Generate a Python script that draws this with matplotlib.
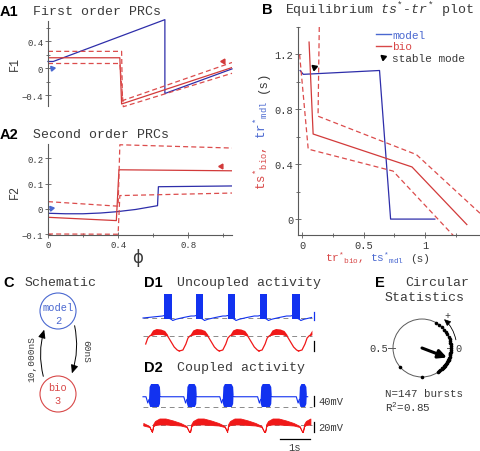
import numpy as np
import matplotlib.pyplot as plt
from matplotlib.patches import Circle, FancyArrowPatch
from matplotlib.lines import Line2D

plt.rcParams['font.family'] = ['Liberation Mono', 'DejaVu Sans']
plt.rcParams['mathtext.fontset'] = 'custom'
plt.rcParams['mathtext.rm'] = 'Liberation Mono'
plt.rcParams['mathtext.it'] = 'Liberation Mono:italic'
plt.rcParams['mathtext.bf'] = 'Liberation Mono:bold'

# ---------- colours ----------
BLUE = '#2e2eaa'
RED = '#d23a3a'
RED_DASH = '#dc4c4c'
LBLUE = '#4a68d0'
LRED = '#d84848'
TR_BLUE = '#1232f0'
TR_RED = '#f01818'
GREY = '#5a5a5a'
DASHGREY = '#8a8a8a'
TXT = '#3a3a3a'

# ---------- A1: first order PRCs ----------
a1_phi_model = [0.0, 0.03, 0.667, 0.667, 1.05]
a1_f1_model = [0.10, 0.10, 0.72, -0.375, -0.01]
a1_phi_bio = [0.0, 0.41, 0.42, 1.05]
a1_f1_bio = [0.155, 0.155, -0.53, 0.01]
a1_phi_bio_hi = [0.0, 0.42, 0.425, 1.05]
a1_f1_bio_hi = [0.25, 0.25, -0.48, 0.085]
a1_phi_bio_lo = [0.0, 0.41, 0.43, 1.05]
a1_f1_bio_lo = [0.07, 0.07, -0.57, -0.075]
a1_mark_model = (0.02, 0.0)
a1_mark_bio = (1.0, 0.11)

# ---------- A2: second order PRCs ----------
a2_phi_model = [0.0, 0.1, 0.2, 0.3, 0.39, 0.5, 0.625, 0.63, 1.05]
a2_f2_model = [-0.017, -0.019, -0.019, -0.016, -0.011, -0.002, 0.013, 0.088, 0.091]
a2_phi_bio = [0.0, 0.39, 0.405, 1.05]
a2_f2_bio = [-0.033, -0.046, 0.155, 0.151]
a2_phi_bio_hi = [0.0, 0.40, 0.41, 1.05]
a2_f2_bio_hi = [0.029, 0.011, 0.254, 0.241]
a2_phi_bio_lo = [0.0, 0.40, 0.41, 1.05]
a2_f2_bio_lo = [-0.099, -0.100, 0.053, 0.063]
a2_mark_model = (0.015, 0.004)
a2_mark_bio = (0.99, 0.17)

# ---------- B: equilibrium ts*-tr* ----------
b_x_model = [-0.016, 0.01, 0.63, 0.72, 1.08]
b_y_model = [1.083, 1.055, 1.083, 0.0, 0.0]
b_x_bio = [0.057, 0.09, 0.894, 1.34]
b_y_bio = [1.29, 0.62, 0.38, -0.04]
b_x_bio_hi = [0.14, 0.13, 0.93, 1.45]
b_y_bio_hi = [1.40, 0.75, 0.47, 0.04]
b_x_bio_lo = [-0.02, 0.05, 0.74, 1.23]
b_y_bio_lo = [1.20, 0.51, 0.35, -0.12]
b_stable = (0.098, 1.105)

# ---------- D: voltage traces (s, mV) ----------
d1_blue_start = [0.81, 1.87, 2.92, 4.0, 5.08]
d1_blue_dur = 0.24
d1_ib_t = [0.0, 0.04, 0.15, 0.4, 0.65]
d1_ib_v = [-56, -60, -55, -48, -42]

d1_red_peak = [0.64, 1.98, 3.31, 4.62, 5.95]
d1_red_t = [-0.67, -0.55, -0.45, -0.38, -0.3, -0.15, 0.0, 0.15, 0.28, 0.38, 0.5, 0.6, 0.67]
d1_red_v = [-80, -78, -66, -54, -49, -47, -46, -47, -50, -60, -72, -78, -80]
d1_band_t = [-0.3, -0.22, -0.1, 0.05, 0.18, 0.28]
d1_band_hi = [-46, -38, -35, -36, -39, -47]
d1_band_lo = [-50, -47.5, -46.5, -46.5, -47.5, -50]

d2_blue_start = [0.3, 1.56, 2.76, 4.02, 5.31]
d2_blue_dur = [0.38, 0.33, 0.36, 0.37, 0.25]
d2_blue_rest = -9
d2_blue_dip = -34

d2_red_trough = [-0.84, 0.4, 1.67, 2.9, 4.17, 5.43]
d2_env_t = [0.0, 0.04, 0.1, 0.25, 0.45, 0.7, 0.95, 1.15, 1.24]
d2_env_lo = [-64, -53, -50, -49, -49, -50, -51, -54, -64]
d2_env_hi = [-64, -48, -42, -37, -37, -41, -46, -52, -64]

# ---------- E: circular statistics ----------
e_phase = [0.17, 0.15, 0.13, 0.11, 0.09, 0.08, 0.06, 0.05, 0.04, 0.03, 0.02,
           0.01, 0.0, -0.01, -0.02, -0.03, -0.035, -0.04, -0.05, -0.055, -0.06,
           -0.065, -0.07, -0.075, -0.08, -0.085, -0.09, -0.095, -0.1, -0.105,
           -0.11, -0.115, -0.12, -0.125, -0.13, -0.14, -0.15, -0.16, -0.25, -0.385]
e_mean_phase = -0.058
e_R = 0.92

W, H = 481, 452
fig = plt.figure(figsize=(W / 100, H / 100), dpi=100)


def px_axes(x0, y0, x1, y1):
    return fig.add_axes([x0 / W, 1 - y1 / H, (x1 - x0) / W, (y1 - y0) / H])


def style_axes(ax, size):
    for s in ['top', 'right']:
        ax.spines[s].set_visible(False)
    for s in ['left', 'bottom']:
        ax.spines[s].set_color(GREY)
        ax.spines[s].set_linewidth(0.8)
    ax.tick_params(which='both', direction='inout', color=GREY, width=0.6,
                   labelsize=size, labelcolor=TXT, pad=1.5)
    ax.tick_params(which='major', length=4)
    ax.tick_params(which='minor', length=3)
    ax.patch.set_alpha(0)


# ======================
# A1
# ======================
ax1 = px_axes(48, 22, 232, 107)
style_axes(ax1, 6.5)
ax1.plot(a1_phi_model, a1_f1_model, color=BLUE, lw=0.9, clip_on=False)
ax1.plot(a1_phi_bio, a1_f1_bio, color=RED, lw=0.9)
ax1.plot(a1_phi_bio_hi, a1_f1_bio_hi, color=RED_DASH, lw=0.9, ls=(0, (4, 2.5)))
ax1.plot(a1_phi_bio_lo, a1_f1_bio_lo, color=RED_DASH, lw=0.9, ls=(0, (4, 2.5)), clip_on=False)
ax1.plot(*a1_mark_model, marker=(3, 0, 160), color=LBLUE, ms=4)
ax1.plot(*a1_mark_bio, marker=(3, 0, -30), color=RED, ms=4)
ax1.set_xlim(0, 1.05)
ax1.set_ylim(-0.56, 0.70)
ax1.spines['bottom'].set_visible(False)
ax1.set_xticks([])
ax1.set_yticks([-0.4, 0, 0.4])
ax1.set_yticklabels(['\u22120.4', '0', '0.4'])
ax1.set_yticks([-0.2, 0.2, 0.6], minor=True)

# ======================
# A2
# ======================
ax2 = px_axes(48, 145, 232, 236)
style_axes(ax2, 6.5)
ax2.plot(a2_phi_model, a2_f2_model, color=BLUE, lw=0.9)
ax2.plot(a2_phi_bio, a2_f2_bio, color=RED, lw=0.9)
ax2.plot(a2_phi_bio_hi, a2_f2_bio_hi, color=RED_DASH, lw=0.9, ls=(0, (4, 2.5)))
ax2.plot(a2_phi_bio_lo, a2_f2_bio_lo, color=RED_DASH, lw=0.9, ls=(0, (4, 2.5)), clip_on=False)
ax2.plot(*a2_mark_model, marker=(3, 0, 160), color=LBLUE, ms=4)
ax2.plot(*a2_mark_bio, marker=(3, 0, -30), color=RED, ms=4)
ax2.set_xlim(0, 1.05)
ax2.set_ylim(-0.103, 0.257)
ax2.set_yticks([-0.1, 0, 0.1, 0.2])
ax2.set_yticklabels(['\u22120.1', '0', '0.1', '0.2'])
ax2.set_xticks([0, 0.4, 0.8])
ax2.set_xticklabels(['0', '0.4', '0.8'])
ax2.set_xticks([0.2, 0.6, 1.0], minor=True)

# ======================
# B
# ======================
axb = px_axes(298, 28, 480, 236)
style_axes(axb, 7.5)
axb.plot(b_x_model, b_y_model, color=BLUE, lw=0.9)
axb.plot(b_x_bio, b_y_bio, color=RED, lw=0.9)
axb.plot(b_x_bio_hi, b_y_bio_hi, color=RED_DASH, lw=0.9, ls=(0, (4, 2.5)))
axb.plot(b_x_bio_lo, b_y_bio_lo, color=RED_DASH, lw=0.9, ls=(0, (4, 2.5)))
axb.plot(*b_stable, marker=(3, 0, 170), color='k', ms=4.5)
axb.set_xlim(-0.033, 1.447)
axb.set_ylim(-0.116, 1.40)
axb.set_yticks([0, 0.4, 0.8, 1.2])
axb.set_yticklabels(['0', '0.4', '0.8', '1.2'])
axb.set_yticks([0.2, 0.6, 1.0, 1.4], minor=True)
axb.set_xticks([0, 0.5, 1])
axb.set_xticklabels(['0', '0.5', '1'])
axb.set_xticks([0.25, 0.75, 1.25], minor=True)
handles = [Line2D([], [], color=LBLUE, lw=1),
           Line2D([], [], color=LRED, lw=1),
           Line2D([], [], ls='none', marker=(3, 0, 170), color='k', ms=4.5)]
leg = axb.legend(handles, ['model', 'bio', 'stable mode'], loc='upper left',
                 bbox_to_anchor=(0.43, 0.985), frameon=False, fontsize=8,
                 handlelength=1.3, handletextpad=0.15, labelspacing=0.12,
                 borderpad=0, borderaxespad=0)
for t, c in zip(leg.get_texts(), [LBLUE, LRED, TXT]):
    t.set_color(c)

# ======================
# C schematic
# ======================
axc = px_axes(0, 285, 130, 440)
axc.set_xlim(0, 130)
axc.set_ylim(440, 285)
axc.axis('off')
axc.add_patch(Circle((58, 312), 18, fill=False, ec=LBLUE, lw=0.8))
axc.add_patch(Circle((58, 395), 18, fill=False, ec=LRED, lw=0.8))
axc.text(58, 308, 'model', color=LBLUE, fontsize=7.5, ha='center', va='center')
axc.text(58, 321, '2', color=LBLUE, fontsize=7.5, ha='center', va='center')
axc.text(58, 388, 'bio', color=LRED, fontsize=7.5, ha='center', va='center')
axc.text(58, 401, '3', color=LRED, fontsize=7.5, ha='center', va='center')
axc.add_patch(FancyArrowPatch((44, 380), (45, 328), connectionstyle='arc3,rad=-0.15',
                              arrowstyle='-|>,head_length=5,head_width=2.2',
                              color='k', lw=0.7, mutation_scale=1))
axc.add_patch(FancyArrowPatch((74, 324), (71, 377), connectionstyle='arc3,rad=-0.15',
                              arrowstyle='-|>,head_length=5,head_width=2.2',
                              color='k', lw=0.7, mutation_scale=1))
axc.text(32, 359, '10,000nS', rotation=90, fontsize=6.8, color=TXT, ha='center', va='center')
axc.text(86, 352, '60nS', rotation=270, fontsize=6.8, color=TXT, ha='center', va='center')

# ======================
# D traces
# ======================
T0, T1 = 0.1, 5.73


def d_axes(y0, y1, vlo, vhi):
    ax = px_axes(140, y0, 320, y1)
    ax.set_xlim(0, 6)
    ax.set_ylim(vlo, vhi)
    ax.axis('off')
    ax.plot([T0, T1], [-50, -50], color=DASHGREY, lw=0.7, ls=(0, (5, 4)), zorder=1)
    return ax


# D1 blue
ad1b = d_axes(288, 326, -78, 74)
tl, vl = [T0], [-50]
for s in d1_blue_start:
    tl += [s - 0.06, s]
    vl += [-42, -40]
    e = s + d1_blue_dur
    tl += [e + dt for dt in d1_ib_t]
    vl += d1_ib_v
    ad1b.fill_between([s, e], -52, 46, color=TR_BLUE, lw=0, zorder=3)
tl, vl = np.array(tl), np.array(vl)
keep = tl <= T1
ad1b.plot(tl[keep], vl[keep], color=TR_BLUE, lw=0.8, zorder=2)
ad1b.plot([5.8, 5.8], [-26, -58], color=TR_BLUE, lw=0.9, clip_on=False)

# D1 red
ad1r = d_axes(326, 356, -88, -28)
for c in d1_red_peak:
    t = c + np.array(d1_red_t)
    v = np.array(d1_red_v)
    m = (t >= T0) & (t <= T1)
    ad1r.plot(t[m], v[m], color=TR_RED, lw=0.9, zorder=2)
    tb = c + np.array(d1_band_t)
    mb = (tb >= T0) & (tb <= T1)
    ad1r.fill_between(tb[mb], np.array(d1_band_lo)[mb], np.array(d1_band_hi)[mb],
                      color=TR_RED, lw=0, zorder=3)
ad1r.plot([5.8, 5.8], [-60, -80], color='k', lw=0.9, clip_on=False)

# D2 blue
ad2b = d_axes(378, 412, -66, 70)
tl, vl = [T0], [d2_blue_rest]
for s, d in zip(d2_blue_start, d2_blue_dur):
    e = s + d
    tl += [s - 0.1, s - 0.04, s, e, e + 0.03]
    vl += [d2_blue_rest, d2_blue_dip, -20, -8, d2_blue_rest]
    ad2b.fill([s, s + 0.02, s + 0.07, e - 0.07, e - 0.015, e, e - 0.015, e - 0.06, s + 0.04, s],
              [-20, 30, 42, 42, 30, 0, -38, -50, -50, -35], color=TR_BLUE, lw=0, zorder=3)
tl, vl = np.array(tl), np.array(vl)
keep = tl <= T1
ad2b.plot(tl[keep], vl[keep], color=TR_BLUE, lw=0.8, zorder=2)
ad2b.plot([5.8, 5.8], [-6, -46], color='k', lw=0.9, clip_on=False)

# D2 red
ad2r = d_axes(412, 445, -88, -22)
for c in d2_red_trough:
    t = c + np.array(d2_env_t)
    m = (t >= T0) & (t <= T1)
    ad2r.fill_between(t[m], np.array(d2_env_lo)[m], np.array(d2_env_hi)[m],
                      color=TR_RED, lw=0.6, ec=TR_RED, zorder=3)
ad2r.plot([5.8, 5.8], [-44, -64], color='k', lw=0.9, clip_on=False)
ad2r.plot([4.67, 5.67], [-78, -78], color='k', lw=0.9, clip_on=False)

# ======================
# E circular statistics
# ======================
ae = px_axes(382, 309, 462, 389)
ae.set_xlim(-1.38, 1.38)
ae.set_ylim(-1.38, 1.38)
ae.axis('off')
ae.add_patch(Circle((0, 0), 1, fill=False, ec=GREY, lw=0.7))
ae.plot([-1.17, -0.93], [0, 0], color=GREY, lw=0.7)
ae.plot([0.86, 1.03], [0, 0], color=GREY, lw=0.7)
ang = 2 * np.pi * np.array(e_phase)
ae.plot(np.cos(ang), np.sin(ang), 'o', color='k', ms=2.6, mec='none')
ma = 2 * np.pi * e_mean_phase
ae.annotate('', xy=(e_R * np.cos(ma), e_R * np.sin(ma)), xytext=(0, 0),
            arrowprops=dict(arrowstyle='-|>,head_length=0.5,head_width=0.25',
                            lw=2.2, color='k', shrinkA=0, shrinkB=0))
a0, a1 = np.deg2rad(9), np.deg2rad(57)
ae.add_patch(FancyArrowPatch((1.2 * np.cos(a0), 1.2 * np.sin(a0)),
                             (1.26 * np.cos(a1), 1.26 * np.sin(a1)),
                             connectionstyle='arc3,rad=0.2',
                             arrowstyle='-|>,head_length=4,head_width=1.8',
                             mutation_scale=1, color='k', lw=0.6))

# ======================
# texts (pixel overlay)
# ======================
ov = fig.add_axes([0, 0, 1, 1])
ov.set_xlim(0, W)
ov.set_ylim(H, 0)
ov.axis('off')

bold = dict(family='Liberation Sans', weight='bold', fontsize=10.5, color='k',
            va='baseline', ha='left')
ttl = dict(fontsize=9.5, color=TXT, va='baseline', ha='left')
for x, y, s in [(0, 16, 'A1'), (0, 139, 'A2'), (262, 14, 'B'), (3, 287, 'C'),
                (144, 287, 'D1'), (144, 372, 'D2'), (375, 287, 'E')]:
    ov.text(x, y, s, **bold)
for x, y, s in [(33, 15, 'First order PRCs'), (33, 138, 'Second order PRCs'),
                (285, 14, 'Equilibrium $ts^{*}$-$tr^{*}$ plot'),
                (25, 286, 'Schematic'), (177, 286, 'Uncoupled activity'),
                (177, 371, 'Coupled activity'), (405, 286, 'Circular'),
                (385, 301, 'Statistics')]:
    ov.text(x, y, s, **ttl)

ov.text(15, 64, 'F1', rotation=90, fontsize=8.5, color=TXT, ha='center', va='center')
ov.text(15, 192, 'F2', rotation=90, fontsize=8.5, color=TXT, ha='center', va='center')
ov.text(138, 258, '\u03d5', family='DejaVu Sans', fontsize=12, color=TXT,
        ha='center', va='center')


def chain(x, y, pieces, vertical=False, gap=6, **kw):
    r = fig.canvas.get_renderer()
    for s, c in pieces:
        t = ov.text(x, y, s, color=c, rotation=90 if vertical else 0,
                    rotation_mode='anchor', ha='left', va='baseline', **kw)
        bb = t.get_window_extent(r)
        if vertical:
            y -= bb.height + gap
        else:
            x += bb.width + gap


chain(266, 190, [('ts${}^{*}{}_{\\rm bio}$,', LRED), ('tr${}^{*}{}_{\\rm mdl}$', LBLUE),
                 ('(s)', TXT)], vertical=True, gap=8, fontsize=9)
chain(325, 262, [('tr${}^{*}{}_{\\rm bio}$,', LRED), ('ts${}^{*}{}_{\\rm mdl}$', LBLUE),
                 ('(s)', TXT)], fontsize=8)

ov.text(318, 402, '40mV', fontsize=7.5, color=TXT, ha='left', va='center')
ov.text(318, 428, '20mV', fontsize=7.5, color=TXT, ha='left', va='center')
ov.text(295, 448, '1s', fontsize=7.5, color=TXT, ha='center', va='center')

ov.text(379, 349, '0.5', fontsize=7.5, color=TXT, ha='center', va='center')
ov.text(459, 349, '0', fontsize=7.5, color=TXT, ha='center', va='center')
ov.text(447, 316, '+', fontsize=7, color=TXT, ha='center', va='center')
ov.text(385, 394, 'N=147 bursts', fontsize=7.8, color=TXT, ha='left', va='center')
ov.text(385, 407, 'R$^2$=0.85', fontsize=7.8, color=TXT, ha='left', va='center')

fig.savefig('out.png', dpi=100, facecolor='white')
